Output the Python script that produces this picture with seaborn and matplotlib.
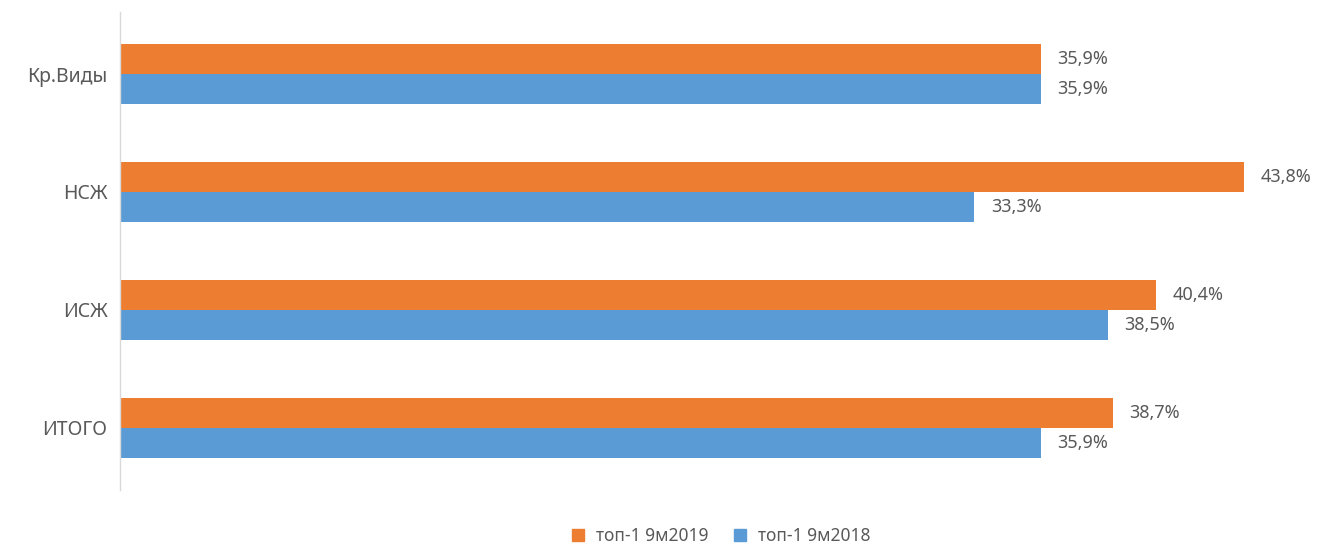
import pandas as pd
import matplotlib.pyplot as plt
import seaborn as sns

# данные
categories = ['Кр.Виды', 'НСЖ', 'ИСЖ', 'ИТОГО']
series_names = ['топ-1 9м2019', 'топ-1 9м2018']
values_2019 = [35.9, 43.8, 40.4, 38.7]
values_2018 = [35.9, 33.3, 38.5, 35.9]
colors = ['#ED7D31', '#5B9BD5']

df = pd.DataFrame({
    'cat': categories * 2,
    'series': [series_names[0]] * 4 + [series_names[1]] * 4,
    'val': values_2019 + values_2018,
})

sns.set_style('white')
plt.rcParams['font.family'] = ['Noto Sans', 'DejaVu Sans']

fig = plt.figure(figsize=(13.23, 5.48), dpi=100)
ax = fig.add_axes([0.0907, 0.106, 0.892, 0.872])

sns.barplot(data=df, y='cat', x='val', hue='series', order=categories,
            hue_order=series_names, palette=colors, width=0.51,
            saturation=1, linewidth=0, orient='h', ax=ax, legend=False)

for cont in ax.containers:
    labels = [f'{v:.1f}%'.replace('.', ',') for v in cont.datavalues]
    ax.bar_label(cont, labels=labels, padding=12, fontsize=13, color='#595959')

ax.set_xlim(0, 46)
ax.set_ylim(3.525, -0.525)
ax.set_xlabel('')
ax.set_ylabel('')
ax.set_xticks([])
ax.tick_params(axis='y', length=0, pad=9, labelsize=14, labelcolor='#595959')
for side in ['top', 'right', 'bottom']:
    ax.spines[side].set_visible(False)
ax.spines['left'].set_color('#D9D9D9')
ax.spines['left'].set_linewidth(1)

handles = [plt.Line2D([], [], marker='s', linestyle='', markersize=9,
                      markerfacecolor=c, markeredgecolor=c) for c in colors]
fig.legend(handles, series_names, loc='center', bbox_to_anchor=(0.541, 0.022),
           ncol=2, frameon=False, fontsize=12.5, labelcolor='#595959',
           handletextpad=0.05, columnspacing=0.8)

fig.savefig('out.png', dpi=100, facecolor='white')
